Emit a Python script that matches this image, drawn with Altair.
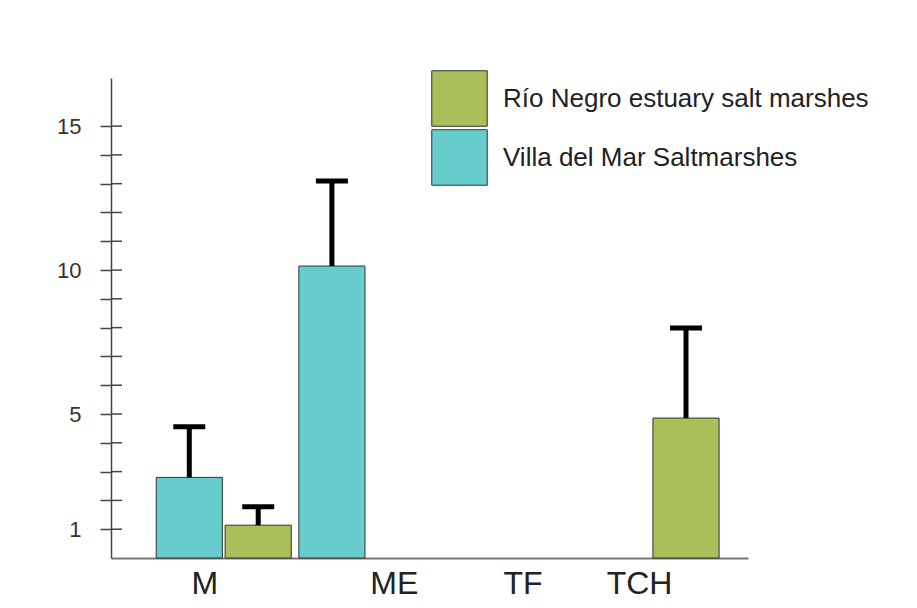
import altair as alt
import pandas as pd

# ---- data ----
categories = ["M", "ME", "TF", "TCH"]
series_names = ["Río Negro estuary salt marshes", "Villa del Mar Saltmarshes"]
series_colors = ["#A9BF5A", "#66CCCC"]
bar_order = ["Villa del Mar Saltmarshes", "Río Negro estuary salt marshes"]

bar_category = ["M", "M", "ME", "TCH"]
bar_series = [
    "Villa del Mar Saltmarshes",
    "Río Negro estuary salt marshes",
    "Villa del Mar Saltmarshes",
    "Río Negro estuary salt marshes",
]
bar_mean = [2.8, 1.14, 10.14, 4.86]
bar_upper = [4.56, 1.78, 13.09, 7.99]

y_tick_values = list(range(1, 16))
y_label_values = [1, 5, 10, 15]

df = pd.DataFrame({
    "cat": bar_category,
    "series": bar_series,
    "mean": bar_mean,
    "upper": bar_upper,
})
ticks_df = pd.DataFrame({"v": y_tick_values})

FONT = "Liberation Sans"

y_scale = alt.Scale(domain=[0, 16.67], nice=False, zero=True)
label_list = ",".join(str(v) for v in y_label_values)
y_axis = alt.Axis(
    values=y_tick_values,
    labelExpr=f"indexof([{label_list}], datum.value) >= 0 ? datum.label : ''",
    grid=False,
    domainColor="#444",
    domainWidth=1.5,
    tickColor="#444",
    tickWidth=1.5,
    tickSize=11,
    labelFont=FONT,
    labelFontSize=22,
    labelColor="#333",
    labelPadding=19,
    title=None,
)

x_enc = alt.X(
    "cat:N",
    scale=alt.Scale(domain=categories, paddingInner=0.053, paddingOuter=0.26, align=0.61),
    axis=alt.Axis(
        ticks=False,
        domainColor="#777",
        domainWidth=2,
        labelAngle=0,
        labelFont=FONT,
        labelFontSize=32,
        labelColor="#222",
        labelPadding=10,
        labelOffset={
            "condition": [
                {"test": "datum.value == 'M'", "value": -19},
                {"test": "datum.value == 'ME'", "value": 28},
                {"test": "datum.value == 'TF'", "value": 14},
            ],
            "value": -12,
        },
        title=None,
    ),
)
x_off = alt.XOffset(
    "series:N",
    scale=alt.Scale(domain=bar_order, paddingInner=0.04, paddingOuter=0),
)

base = alt.Chart(df)

bars = base.mark_bar(stroke="#333", strokeWidth=1, opacity=1).encode(
    x=x_enc,
    xOffset=x_off,
    y=alt.Y("mean:Q", scale=y_scale, axis=y_axis),
    fill=alt.Fill(
        "series:N",
        scale=alt.Scale(domain=series_names, range=series_colors),
        legend=alt.Legend(
            orient="none",
            legendX=320,
            legendY=-8,
            title=None,
            symbolType="square",
            symbolSize=3080,
            symbolStrokeColor="#333",
            symbolStrokeWidth=1,
            symbolOpacity=1,
            labelFont=FONT,
            labelFontSize=26,
            labelColor="#222",
            labelOffset=15,
            labelLimit=0,
            rowPadding=-6,
            padding=0,
        ),
    ),
)

err = base.mark_rule(color="black", strokeWidth=5).encode(
    x=x_enc,
    xOffset=x_off,
    y=alt.Y("mean:Q", scale=y_scale, axis=y_axis),
    y2="upper:Q",
)

caps = base.mark_tick(color="black", thickness=5, size=32, opacity=1).encode(
    x=x_enc,
    xOffset=x_off,
    y=alt.Y("upper:Q", scale=y_scale, axis=y_axis),
)

inner_ticks = alt.Chart(ticks_df).mark_rule(color="#444", strokeWidth=1.5).encode(
    x=alt.value(0),
    x2=alt.value(11),
    y=alt.Y("v:Q", scale=y_scale, axis=y_axis),
)

chart = (
    alt.layer(bars, err, caps, inner_ticks)
    .properties(
        width=637,
        height=480,
        autosize=alt.AutoSizeParams(type="none"),
        padding={"left": 103, "top": 70, "right": 161, "bottom": 42},
        background="white",
    )
    .configure_view(stroke=None)
)

chart.save("out.html", embed_options={"renderer": "svg", "actions": False})
